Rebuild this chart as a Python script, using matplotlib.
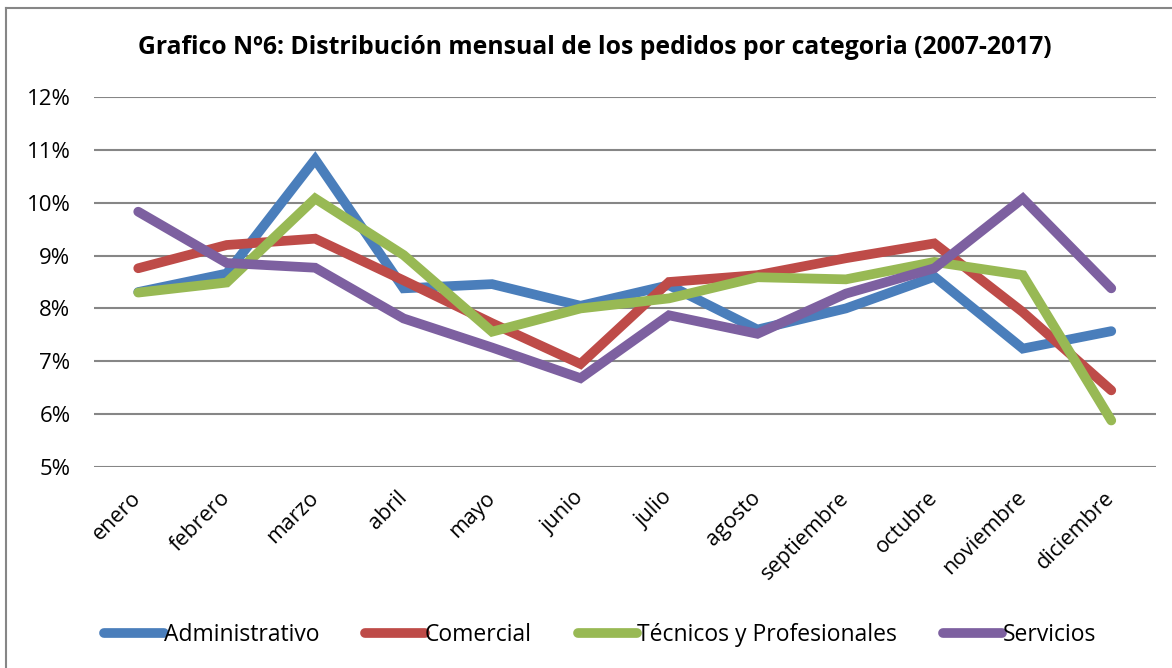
import matplotlib
matplotlib.use("Agg")
import matplotlib.pyplot as plt
from matplotlib.lines import Line2D
from matplotlib.ticker import FuncFormatter, MultipleLocator

months = ["enero", "febrero", "marzo", "abril", "mayo", "junio", "julio",
          "agosto", "septiembre", "octubre", "noviembre", "diciembre"]
administrativo = [8.31, 8.66, 10.82, 8.38, 8.46, 8.05, 8.44, 7.60, 8.00, 8.60, 7.24, 7.57]
comercial = [8.76, 9.20, 9.32, 8.53, 7.72, 6.95, 8.50, 8.63, 8.95, 9.23, 7.93, 6.45]
tecnicos = [8.30, 8.49, 10.08, 9.01, 7.56, 8.00, 8.19, 8.59, 8.55, 8.88, 8.63, 5.88]
servicios = [9.83, 8.86, 8.77, 7.81, 7.26, 6.68, 7.87, 7.52, 8.28, 8.76, 10.08, 8.38]
series_names = ["Administrativo", "Comercial", "Técnicos y Profesionales", "Servicios"]
colors = ["#4A7EBB", "#BE4B48", "#98B954", "#7D60A0"]
title = "Grafico Nº6: Distribución mensual de los pedidos por categoria (2007-2017)"

plt.rcParams['font.family'] = ['Open Sans', 'DejaVu Sans']

W, H = 1172, 668
fig = plt.figure(figsize=(W / 100, H / 100), dpi=100)
ax = fig.add_axes([94 / W, 1 - 467 / H, (1155.5 - 94) / W, (467 - 97) / H])

data = [administrativo, comercial, tecnicos, servicios]
x = list(range(len(months)))
for vals, c, name in zip(data, colors, series_names):
    ax.plot(x, vals, color=c, lw=7.0, solid_capstyle='round',
            solid_joinstyle='miter', label=name, zorder=3)

ax.set_xlim(-0.5, len(months) - 0.5)
ax.set_ylim(5, 12)
ax.yaxis.set_major_locator(MultipleLocator(1))
ax.yaxis.set_major_formatter(FuncFormatter(lambda v, p: f"{v:.0f}%"))
ax.grid(axis='y', color='#868686', lw=1.5, zorder=1)
for s in ax.spines.values():
    s.set_visible(False)
ax.tick_params(axis='y', length=0, labelsize=16, pad=17)
ax.set_xticks(x)
ax.set_xticklabels(months, rotation=45, ha='right', va='center',
                   rotation_mode='anchor')
ax.tick_params(axis='x', length=0, labelsize=15.5, pad=20)

fig.text(595 / W, 1 - 47 / H, title, ha='center', va='center',
         fontsize=17.8, fontweight='bold')

handles = [Line2D([0], [0], color=c, lw=7, solid_capstyle='round') for c in colors]
leg = fig.legend(handles, series_names, loc='center', bbox_to_anchor=(600 / W, 1 - 635 / H),
                 ncol=4, frameon=False, fontsize=16.5, handlelength=2.6,
                 handletextpad=0.0, columnspacing=2.0)

# figure border (top and left only)
fig.add_artist(Line2D([6 / W, 1], [1 - 8 / H, 1 - 8 / H], color='#868686', lw=1.5,
                      transform=fig.transFigure))
fig.add_artist(Line2D([6 / W, 6 / W], [0, 1 - 8 / H], color='#868686', lw=1.5,
                      transform=fig.transFigure))

fig.savefig("out.png", dpi=100)
